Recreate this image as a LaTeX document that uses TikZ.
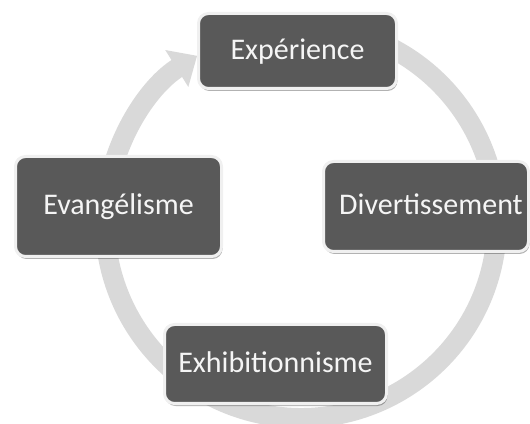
\documentclass[tikz,border=0pt]{standalone}
\usepackage{fontspec}
\setmainfont{Carlito}
\usetikzlibrary{arrows.meta,shadows}
\definecolor{boxfill}{HTML}{595959}
\definecolor{boxedge}{HTML}{F0F0F0}
\definecolor{ringgray}{HTML}{D9D9D9}
\definecolor{txt}{HTML}{F5F5F5}
\begin{document}
\begin{tikzpicture}[x=1pt,y=1pt,
  stagefont/.style={text=txt, font=\fontsize{30}{36}\selectfont, text height=17pt, text depth=0pt},
  stage/.style={rectangle, rounded corners=10pt, fill=boxfill, draw=boxedge,
    line width=3pt, inner sep=0pt, stagefont,
    drop shadow={shadow xshift=1pt, shadow yshift=-2.5pt, opacity=0.3, fill=black}},
  ringarrow/.style={draw=ringgray, line width=20pt,
    -{Triangle[width=42pt, length=24pt]}}]
\useasboundingbox (0,0) rectangle (530,423);
\coordinate (rc) at (301,201);
\draw[ringarrow] (rc) ++(80:196) arc[start angle=80, end angle=-238, radius=196];
\node[stage, minimum width=198pt, minimum height=75pt] (exp) at (297.5,372) {Expérience};
\node[stage, minimum width=205pt, minimum height=90pt,
  label={[stagefont, inner sep=0pt, xshift=5pt]center:Divertissement}] (div) at (426,216.5) {};
\node[stage, minimum width=206pt, minimum height=100pt] (eva) at (118.5,216.5) {Evangélisme};
\node[stage, minimum width=222pt, minimum height=79pt] (exh) at (275.5,59) {Exhibitionnisme};
\end{tikzpicture}
\end{document}
